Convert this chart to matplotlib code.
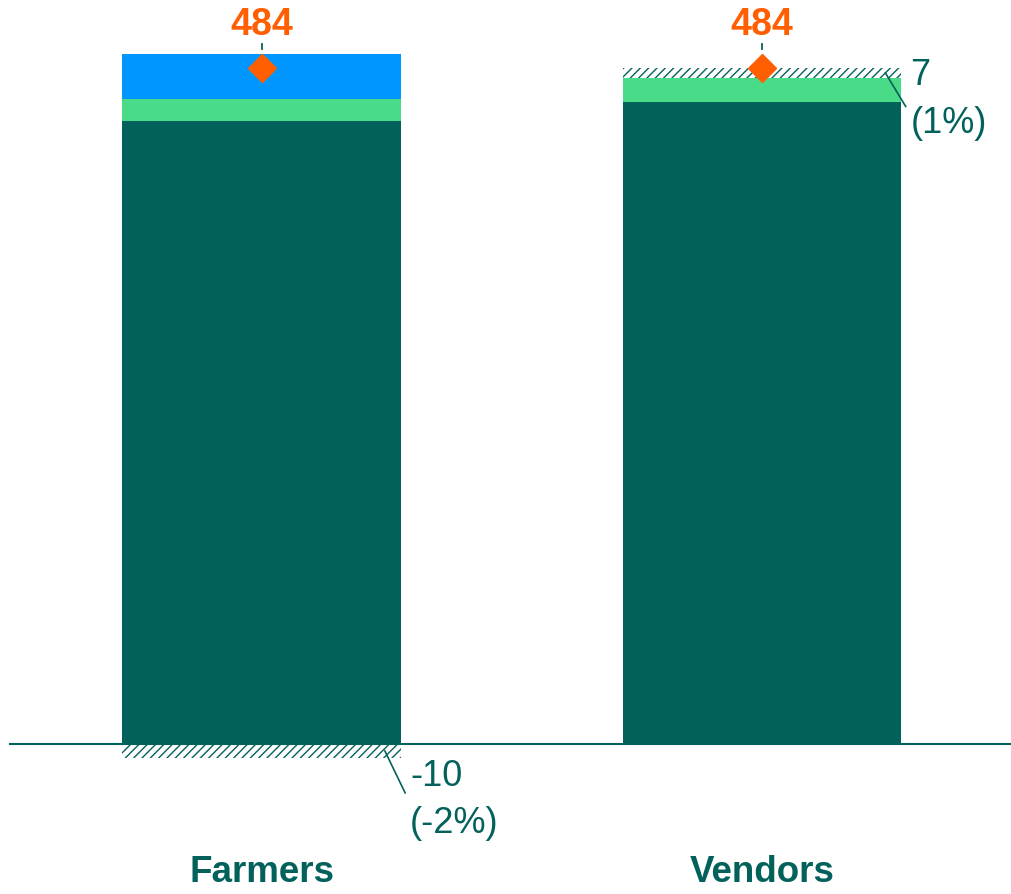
import matplotlib.pyplot as plt

plt.rcParams['font.family'] = ['Liberation Sans', 'DejaVu Sans']
plt.rcParams['hatch.linewidth'] = 1.0

categories = ["Farmers", "Vendors"]
base = [446, 460]
green = [16, 17]
blue = [32, 0]
adjust = [-10, 7]
adjust_labels = ["-10\n(-2%)", "7\n(1%)"]
totals = [484, 484]

DARK = "#03615B"
GREEN = "#4ADB88"
BLUE = "#0096FF"
ORANGE = "#FF5F00"

fig = plt.figure(figsize=(10.12, 8.94), dpi=100)
ax = fig.add_axes([0, 0, 1, 1])
ax.set_xlim(-0.5225, 1.4995)
ax.set_ylim(-107.4, 532.7)
ax.axis("off")

x = [0, 1]
w = 0.557

ax.bar(x, base, width=w, color=DARK, linewidth=0)
ax.bar(x, green, width=w, bottom=base, color=GREEN, linewidth=0)
tops = [b + g for b, g in zip(base, green)]
ax.bar(x, blue, width=w, bottom=tops, color=BLUE, linewidth=0)
tops = [t + b for t, b in zip(tops, blue)]

# hatched adjustment segments: negative below the axis, positive on top
for i, a in enumerate(adjust):
    bottom = a if a < 0 else tops[i]
    ax.bar(x[i], abs(a), width=w, bottom=bottom, facecolor="white",
           edgecolor=DARK, hatch="////", linewidth=0)
    mid = bottom + abs(a) / 2
    lx = x[i] + w / 2 + 0.018
    ax.plot([x[i] + 0.2465, x[i] + 0.287], [mid, mid - 24 if a > 0 else mid - 30],
            color=DARK, lw=1.2)
    first, second = adjust_labels[i].split("\n")
    ty = mid - 2 if a > 0 else mid - 18
    ax.text(lx, ty, first, color=DARK, fontsize=26, ha="left", va="center")
    ax.text(lx, ty - 34, second, color=DARK, fontsize=26, ha="left", va="center")

ax.axhline(0, xmin=10 / 1012, xmax=1, color=DARK, lw=1.5)

for i, t in enumerate(totals):
    ax.plot(x[i], t, marker="D", color=ORANGE, markersize=14, linestyle="none")
    ax.plot([x[i], x[i]], [t + 13.5, t + 17], color=DARK, lw=1.3)
    ax.text(x[i], t + 31, str(t), color=ORANGE, fontsize=27, fontweight="bold",
            ha="center", va="center")

for i, c in enumerate(categories):
    ax.text(x[i], -92, c, color=DARK, fontsize=26.5, fontweight="bold",
            ha="center", va="center")

fig.savefig("out.png", dpi=100)
